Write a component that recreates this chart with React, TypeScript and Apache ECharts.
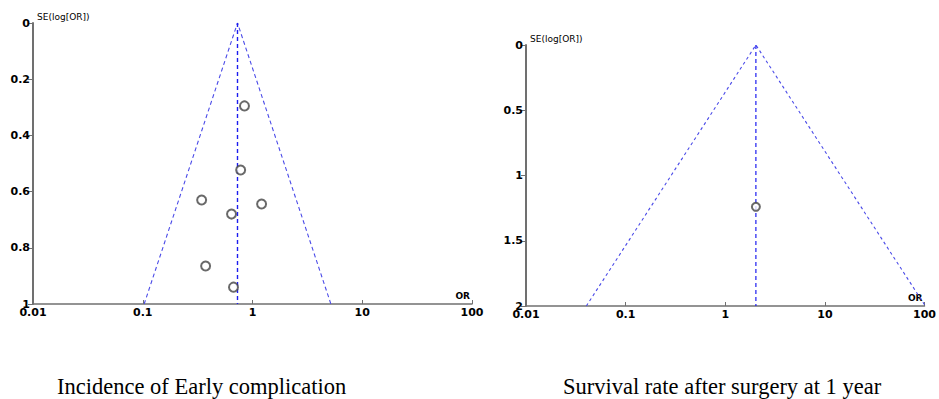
import React, { useEffect, useRef } from "react";
import * as echarts from "echarts";

// Left panel: Incidence of Early complication
const leftStudiesOR = [0.845, 0.78, 0.344, 1.21, 0.644, 0.374, 0.671];
const leftStudiesSE = [0.295, 0.523, 0.63, 0.644, 0.68, 0.865, 0.94];
const leftPooledOR = 0.73;
const leftFunnelOR = [0.103, 0.73, 5.18];
const leftFunnelSE = [1, 0, 1];
const leftYTicks = [0, 0.2, 0.4, 0.6, 0.8, 1];

// Right panel: Survival rate after surgery at 1 year
const rightStudiesOR = [2.03];
const rightStudiesSE = [1.24];
const rightPooledOR = 2.03;
const rightFunnelOR = [0.0403, 2.03, 100];
const rightFunnelSE = [2, 0, 1.99];
const rightYTicks = [0, 0.5, 1, 1.5, 2];

const xTickLabels = ["0.01", "0.1", "1", "10", "100"];
const panelTitles = ["Incidence of Early complication", "Survival rate after surgery at 1 year"];

const zip = (a: number[], b: number[]) => a.map((v, i) => [v, b[i]]);

export default function App() {
  const ref = useRef<HTMLDivElement>(null);
  useEffect(() => {
    if (!ref.current) return;
    const chart = echarts.init(ref.current, null, { renderer: "svg" });
    const axisColor = "#707070";
    const labelStyle = { color: "#000", fontWeight: "bold" as const, fontSize: 11, fontFamily: "DejaVu Sans" };
    const mkX = (gridIndex: number) => ({
      type: "log" as const,
      gridIndex,
      logBase: 10,
      min: 0.01,
      max: 100,
      position: "bottom" as const,
      name: "OR",
      nameLocation: "end" as const,
      nameGap: 0,
      nameTextStyle: { fontSize: 9, fontWeight: "bold" as const, color: "#000", align: "right" as const, verticalAlign: "bottom" as const, padding: [0, 2, 4, 0], fontFamily: "DejaVu Sans" },
      axisLine: { show: true, onZero: false, lineStyle: { color: axisColor, width: 1.5 } },
      axisTick: { show: true, inside: true, length: 4, lineStyle: { color: axisColor } },
      minorTick: { show: false },
      splitLine: { show: false },
      axisLabel: {
        ...labelStyle,
        margin: 3,
        formatter: (v: number) => {
          const e = Math.round(Math.log10(v));
          return xTickLabels[e + 2] ?? "";
        },
      },
    });
    const mkY = (gridIndex: number, max: number, interval: number, ticks: number[]) => ({
      type: "value" as const,
      gridIndex,
      inverse: true,
      min: 0,
      max,
      interval,
      name: "SE(log[OR])",
      nameLocation: "start" as const,
      nameGap: 2,
      nameTextStyle: { fontSize: 9, color: "#000", align: "left" as const, verticalAlign: "bottom" as const, padding: [0, 0, 0, 4], fontFamily: "DejaVu Sans" },
      axisLine: { show: true, onZero: false, lineStyle: { color: axisColor, width: 2 } },
      axisTick: { show: true, length: 5, lineStyle: { color: axisColor } },
      splitLine: { show: false },
      axisLabel: {
        ...labelStyle,
        margin: 3,
        formatter: (v: number) => {
          const t = ticks.find((x) => Math.abs(x - v) < 1e-9);
          return t === undefined ? "" : String(t);
        },
      },
    });
    const funnelStyle = { color: "#4a4ae8", width: 1.1, type: [4, 3] as number[] };
    const pooledStyle = { color: "#1c1cf0", width: 1.4, type: [4, 3] as number[] };
    const circleStyle = { color: "#444", borderColor: "#444", borderWidth: 0.9 };
    const titleStyle = { fontFamily: "Liberation Serif", fontSize: 22.5, fontWeight: "normal" as const, color: "#000" };
    chart.setOption({
      animation: false,
      grid: [
        { left: 33, top: 23, width: 439, height: 281 },
        { left: 526, top: 45, width: 409, height: 261 },
      ],
      xAxis: [mkX(0), mkX(1)],
      yAxis: [mkY(0, 1, 0.2, leftYTicks), mkY(1, 2, 0.5, rightYTicks)],
      title: [
        { text: panelTitles[0], left: 52, top: 370, textStyle: titleStyle },
        { text: panelTitles[1], left: 558, top: 370, textStyle: titleStyle },
      ],
      series: [
        { type: "line", xAxisIndex: 0, yAxisIndex: 0, data: zip(leftFunnelOR, leftFunnelSE), symbol: "none", lineStyle: funnelStyle, silent: true },
        { type: "line", xAxisIndex: 0, yAxisIndex: 0, data: [[leftPooledOR, 0], [leftPooledOR, 1]], symbol: "none", lineStyle: pooledStyle, silent: true },
        { type: "scatter", xAxisIndex: 0, yAxisIndex: 0, data: zip(leftStudiesOR, leftStudiesSE), symbol: "emptyCircle", symbolSize: 9, itemStyle: circleStyle, z: 5 },
        { type: "line", xAxisIndex: 1, yAxisIndex: 1, data: zip(rightFunnelOR, rightFunnelSE), symbol: "none", lineStyle: { ...funnelStyle, type: [3, 3] }, silent: true },
        { type: "line", xAxisIndex: 1, yAxisIndex: 1, data: [[rightPooledOR, 0], [rightPooledOR, 2]], symbol: "none", lineStyle: { ...pooledStyle, width: 1.2 }, silent: true },
        { type: "scatter", xAxisIndex: 1, yAxisIndex: 1, data: zip(rightStudiesOR, rightStudiesSE), symbol: "emptyCircle", symbolSize: 8, itemStyle: circleStyle, z: 5 },
      ],
    });
    return () => chart.dispose();
  }, []);
  return (
    <div
      ref={ref}
      style={{ position: "fixed", left: 0, top: 0, width: 939, height: 399, background: "#fff" }}
    />
  );
}
